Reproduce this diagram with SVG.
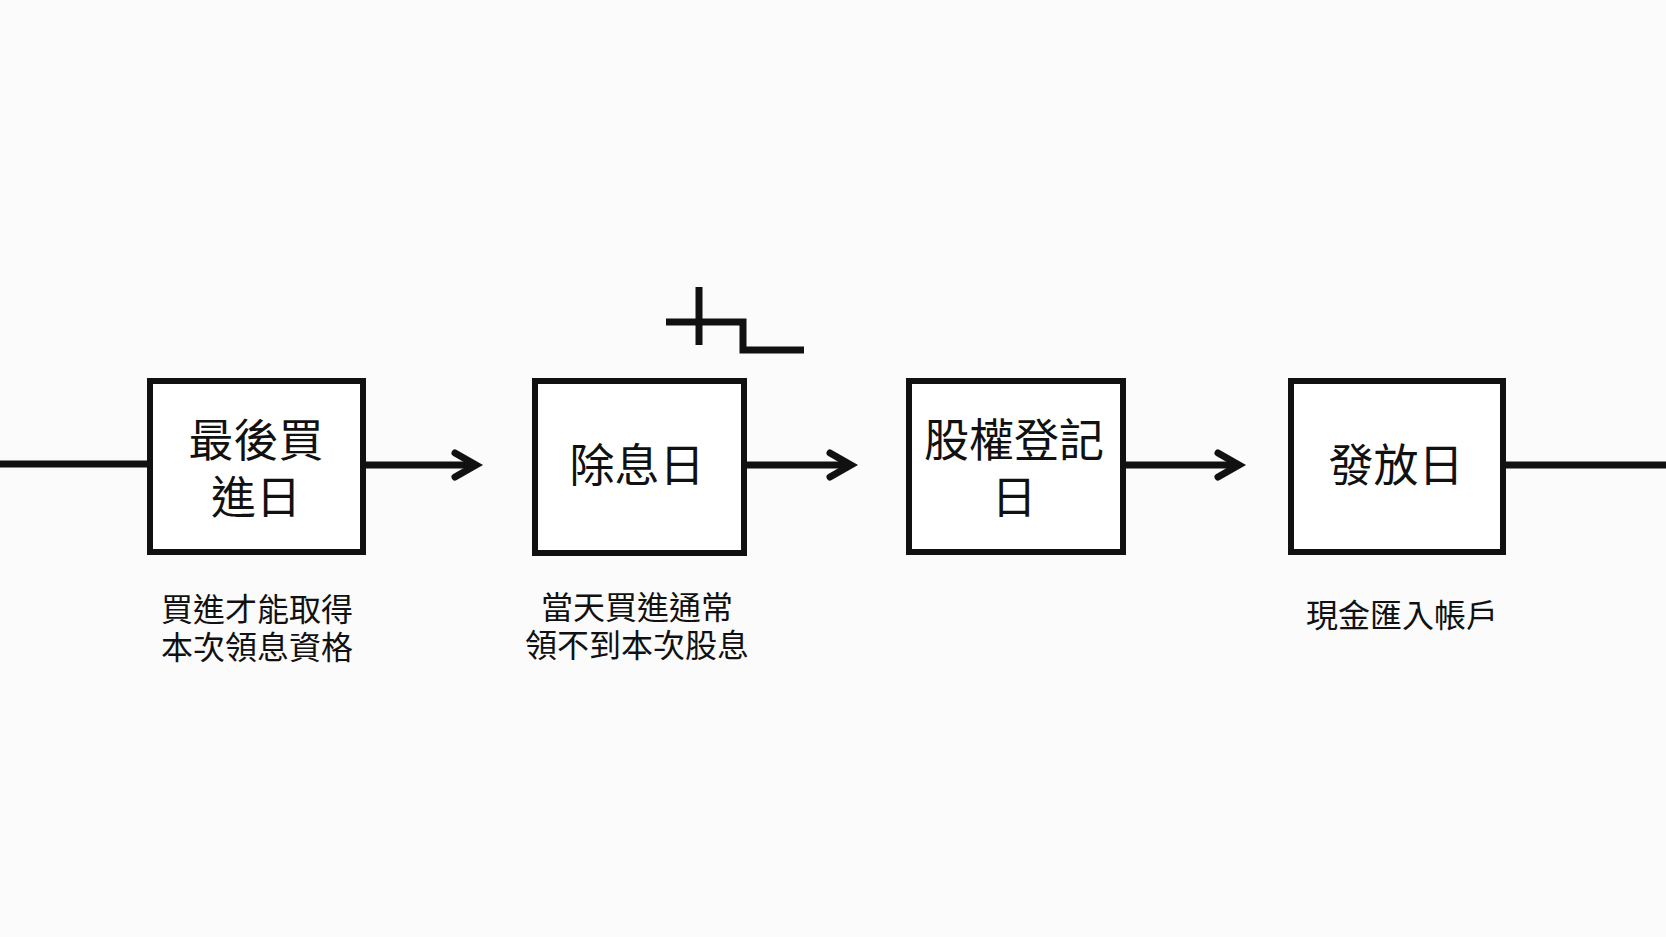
<svg xmlns="http://www.w3.org/2000/svg" width="1666" height="937" viewBox="0 0 1666 937">
<style>
.box{fill:#ffffff;stroke:#111111;stroke-width:6}
.main{font-family:"Noto Sans CJK TC","Noto Sans CJK SC",sans-serif;font-size:45px;font-weight:400;fill:#111111;text-anchor:middle}
.sub{font-family:"Noto Sans CJK TC","Noto Sans CJK SC",sans-serif;font-size:32px;fill:#111111;text-anchor:middle}
.line{fill:none;stroke:#111111;stroke-width:7}
.head{fill:none;stroke:#111111;stroke-width:7;stroke-linecap:round;stroke-linejoin:miter}
</style>
<rect width="1666" height="937" fill="#fbfbfb"/>
<g id="connectors">
<line class="line" x1="0" y1="464" x2="150" y2="464"/>
<line class="line" x1="363" y1="465" x2="474" y2="465"/>
<path class="head" d="M455 453 L476 465 L455 477"/>
<line class="line" x1="744" y1="465" x2="850" y2="465"/>
<path class="head" d="M830 453 L851 465 L830 477"/>
<line class="line" x1="1123" y1="465" x2="1238" y2="465"/>
<path class="head" d="M1218 453 L1239 465 L1218 477"/>
<line class="line" x1="1503" y1="465" x2="1666" y2="465"/>
</g>
<g id="symbol">
<line class="line" x1="699" y1="287" x2="699" y2="345"/>
<path class="line" d="M666 322 L743 322 L743 350 L804 350"/>
</g>
<g id="node-last-buy">
<rect class="box" x="150" y="381" width="213" height="171"/>
<text class="main" x="256" y="457">最後買</text>
<text class="main" x="256" y="514">進日</text>
<text class="sub" x="257" y="621">買進才能取得</text>
<text class="sub" x="257" y="659">本次領息資格</text>
</g>
<g id="node-ex-dividend">
<rect class="box" x="535" y="381" width="209" height="172"/>
<text class="main" x="637" y="482">除息日</text>
<text class="sub" x="637" y="619">當天買進通常</text>
<text class="sub" x="637" y="657">領不到本次股息</text>
</g>
<g id="node-record">
<rect class="box" x="909" y="381" width="214" height="171"/>
<text class="main" x="1014" y="457">股權登記</text>
<text class="main" x="1014" y="514">日</text>
</g>
<g id="node-payment">
<rect class="box" x="1291" y="381" width="212" height="171"/>
<text class="main" x="1396" y="482">發放日</text>
<text class="sub" x="1402" y="627">現金匯入帳戶</text>
</g>
</svg>
